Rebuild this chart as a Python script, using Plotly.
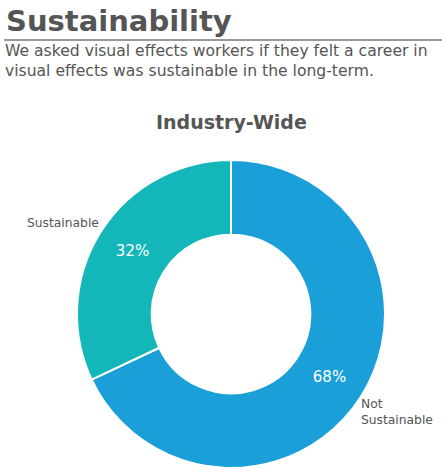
import plotly.graph_objects as go

W, H = 442, 469

labels = ["Not Sustainable", "Sustainable"]
values = [68, 32]
colors = ["#1a9fd9", "#13b7b9"]
outer_labels = ["Not<br>Sustainable", "Sustainable"]

title = "Sustainability"
subtitle = "We asked visual effects workers if they felt a career in<br>visual effects was sustainable in the long-term."
chart_title = "Industry-Wide"

def px(x):
    return x / W

def py(y):
    return 1 - y / H

cx, cy, r = 231, 314, 154

fig = go.Figure()
fig.add_trace(go.Pie(
    labels=labels,
    values=values,
    hole=0.515,
    sort=False,
    direction="clockwise",
    rotation=0,
    marker=dict(colors=colors, line=dict(color="white", width=2)),
    texttemplate="%{percent:.0%}",
    textposition="inside",
    insidetextorientation="horizontal",
    textfont=dict(color="white", size=15, family="DejaVu Sans"),
    domain=dict(x=[px(cx - r), px(cx + r)], y=[py(cy + r), py(cy - r)]),
    showlegend=False,
    hoverinfo="label+percent",
))

fig.add_annotation(text="<b>" + title + "</b>", x=px(4), y=py(2), xref="paper", yref="paper",
                   xanchor="left", yanchor="top", showarrow=False,
                   font=dict(family="DejaVu Sans", size=29, color="#555555"))
fig.add_shape(type="line", xref="paper", yref="paper", x0=px(4), x1=1, y0=py(40), y1=py(40),
              line=dict(color="#777777", width=1.5))
fig.add_annotation(text=subtitle, x=px(3), y=py(40), xref="paper", yref="paper",
                   xanchor="left", yanchor="top", align="left", showarrow=False,
                   font=dict(family="DejaVu Sans", size=15.6, color="#555555"))
fig.add_annotation(text="<b>" + chart_title + "</b>", x=px(231), y=py(122), xref="paper", yref="paper",
                   xanchor="center", yanchor="middle", showarrow=False,
                   font=dict(family="DejaVu Sans", size=19, color="#555555"))
fig.add_annotation(text=outer_labels[1], x=px(101), y=py(223), xref="paper", yref="paper",
                   xanchor="right", yanchor="middle", showarrow=False,
                   font=dict(family="DejaVu Sans", size=12.3, color="#555555"))
fig.add_annotation(text=outer_labels[0], x=px(359), y=py(412), xref="paper", yref="paper",
                   xanchor="left", yanchor="middle", align="left", showarrow=False,
                   font=dict(family="DejaVu Sans", size=12.3, color="#555555"))

fig.update_layout(width=W, height=H, margin=dict(l=0, r=0, t=0, b=0),
                  paper_bgcolor="white", plot_bgcolor="white")

fig.write_html("out.html")
